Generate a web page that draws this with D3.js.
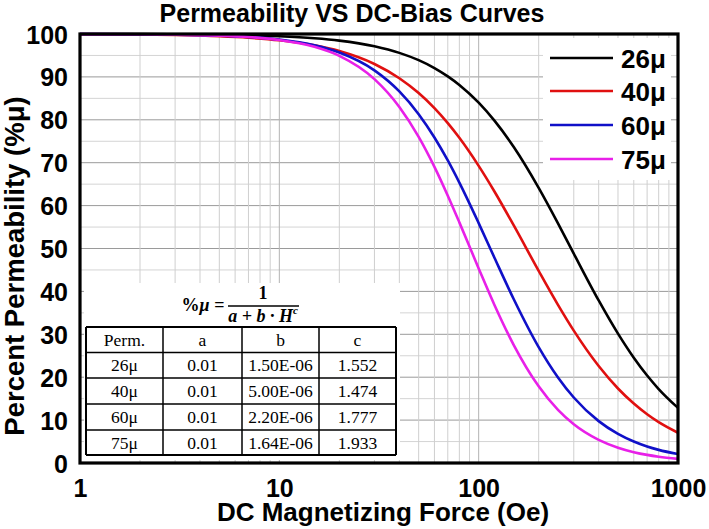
<!DOCTYPE html>
<html><head><meta charset="utf-8">
<script src="https://cdn.jsdelivr.net/npm/d3@7"></script>
<style>
html,body{margin:0;padding:0;background:#fff;}
svg{display:block;}
</style></head>
<body>
<svg id="chart" width="709" height="529"></svg>
<script>
// ---- data ----
const H = [1,2,3,5,7,10,15,20,30,40,50,60,70,80,100,120,150,200,250,300,400,500,600,700,800,1000];
const perm26 = [99.99,99.96,99.92,99.82,99.69,99.47,99.01,98.46,97.14,95.60,93.90,92.06,90.12,88.12,83.99,79.81,73.66,64.14,55.87,48.81,37.89,30.15,24.54,20.39,17.24,12.84];
const perm40 = [99.95,99.86,99.75,99.47,99.13,98.53,97.36,96.03,93.01,89.69,86.23,82.72,79.22,75.80,69.26,63.29,55.37,44.79,36.87,30.86,22.61,17.37,13.85,11.35,9.51,7.04];
const perm60 = [99.98,99.92,99.85,99.62,99.31,98.70,97.37,95.68,91.52,86.61,81.31,75.88,70.52,65.35,55.92,47.86,38.18,27.02,19.94,15.27,9.76,6.78,5.00,3.84,3.06,2.08];
const perm75 = [99.98,99.94,99.86,99.63,99.30,98.61,97.01,94.91,89.48,82.99,76.02,69.02,62.30,56.09,45.36,36.85,27.49,17.87,12.37,9.03,5.39,3.57,2.53,1.89,1.47,0.96];
const seriesNames = ["26\u03bc","40\u03bc","60\u03bc","75\u03bc"];
const seriesValues = [perm26, perm40, perm60, perm75];
const seriesColors = ["#000000","#e01010","#1010c8","#e820e8"];
const xTicks = [1,10,100,1000];
const yTicks = [0,10,20,30,40,50,60,70,80,90,100];
const tableHeader = ["Perm.","a","b","c"];
const tableRows = [
  ["26\u03bc","0.01","1.50E-06","1.552"],
  ["40\u03bc","0.01","5.00E-06","1.474"],
  ["60\u03bc","0.01","2.20E-06","1.777"],
  ["75\u03bc","0.01","1.64E-06","1.933"]
];

// ---- layout ----
const L = 80, R = 678, T = 34, B = 463;
const svg = d3.select("#chart");
const x = d3.scaleLog().domain([1,1000]).range([L,R]);
const y = d3.scaleLinear().domain([0,100]).range([B,T]);
const SANS = "'Liberation Sans', Arial, sans-serif";
const SERIF = "'Liberation Serif', 'Times New Roman', serif";

// grid
const g = svg.append("g");
const minorY = d3.range(0,101,5);
g.selectAll("line.gy").data(minorY).join("line")
  .attr("x1",L).attr("x2",R).attr("y1",d=>y(d)).attr("y2",d=>y(d))
  .attr("stroke",d=>d%10===0?"#9a9a9a":"#d4d4d4").attr("stroke-width",1);
const vx = [];
[1,10,100].forEach(dec=>{for(let k=1;k<=10;k++){const v=dec*k; if(v>1&&v<1000) vx.push(v);}});
g.selectAll("line.gx").data(Array.from(new Set(vx))).join("line")
  .attr("x1",d=>x(d)).attr("x2",d=>x(d)).attr("y1",T).attr("y2",B)
  .attr("stroke",d=>(d===10||d===100)?"#b4b4b4":"#cfcfcf").attr("stroke-width",1);

// white boxes (legend & table)
svg.append("rect").attr("x",543).attr("y",38).attr("width",128).attr("height",142).attr("fill","#fff");
svg.append("rect").attr("x",84).attr("y",283).attr("width",316).attr("height",177).attr("fill","#fff");

// curves
svg.append("clipPath").attr("id","clip").append("rect").attr("x",L).attr("y",T-3).attr("width",R-L).attr("height",B-T+3);
const line = d3.line().x(d=>x(d[0])).y(d=>y(d[1])).curve(d3.curveMonotoneX);
const cg = svg.append("g").attr("clip-path","url(#clip)");
seriesValues.forEach((vals,i)=>{
  cg.append("path").datum(H.map((h,j)=>[h,vals[j]]))
    .attr("d",line).attr("fill","none").attr("stroke",seriesColors[i]).attr("stroke-width",2.6);
});

// border
svg.append("rect").attr("x",L).attr("y",T).attr("width",R-L).attr("height",B-T)
  .attr("fill","none").attr("stroke","#000").attr("stroke-width",3.2);

// axes labels
const yAxis = d3.axisLeft(y).tickValues(yTicks).tickSize(0).tickPadding(12).tickFormat(d3.format("d"));
const ya = svg.append("g").attr("transform",`translate(${L},0)`).call(yAxis);
ya.select(".domain").remove();
ya.selectAll("text").attr("font-family",SANS).attr("font-weight","bold").attr("font-size",25).attr("fill","#000").attr("dy","0.36em");

const xAxis = d3.axisBottom(x).tickValues(xTicks).tickSize(0).tickPadding(0).tickFormat(d3.format("d"));
const xa = svg.append("g").attr("transform",`translate(0,${B})`).call(xAxis);
xa.select(".domain").remove();
xa.selectAll("text").attr("font-family",SANS).attr("font-weight","bold").attr("font-size",25).attr("fill","#000").attr("dy",null).attr("y",34);

// titles
svg.append("text").attr("x",352).attr("y",22).attr("text-anchor","middle")
  .attr("font-family",SANS).attr("font-weight","bold").attr("font-size",25).text("Permeability VS DC-Bias Curves");
svg.append("text").attr("x",383).attr("y",521).attr("text-anchor","middle")
  .attr("font-family",SANS).attr("font-weight","bold").attr("font-size",26).text("DC Magnetizing Force (Oe)");
svg.append("text").attr("transform","translate(24,266) rotate(-90)").attr("text-anchor","middle")
  .attr("font-family",SANS).attr("font-weight","bold").attr("font-size",27.5).text("Percent Permeability (%\u03bc)");

// legend
const legY = [58,91,125,159];
const lg = svg.append("g");
seriesNames.forEach((n,i)=>{
  lg.append("line").attr("x1",550).attr("x2",613).attr("y1",legY[i]).attr("y2",legY[i])
    .attr("stroke",seriesColors[i]).attr("stroke-width",2.6);
  lg.append("text").attr("x",621).attr("y",legY[i]+9.5)
    .attr("font-family",SANS).attr("font-weight","bold").attr("font-size",26).text(n);
});

// formula
const fg = svg.append("g").attr("font-family",SERIF).attr("font-weight","bold").attr("font-size",18);
fg.append("text").attr("x",203).attr("y",311).attr("text-anchor","middle")
  .html("%<tspan font-style='italic'>\u03bc</tspan> =");
fg.append("line").attr("x1",228).attr("x2",299).attr("y1",306).attr("y2",306).attr("stroke","#000").attr("stroke-width",1.3);
fg.append("text").attr("x",263).attr("y",299).attr("text-anchor","middle").text("1");
fg.append("text").attr("x",263).attr("y",322).attr("text-anchor","middle").attr("font-style","italic")
  .html("a + b \u00b7 H<tspan font-size='11' dy='-8'>c</tspan>");

// table
const colX = [86,163,242,319,396];
const rowY = [327,352.5,378,404,430,455];
const tg = svg.append("g");
const allRows = [tableHeader].concat(tableRows);
allRows.forEach((row,r)=>{
  row.forEach((cell,c)=>{
    tg.append("text").attr("x",(colX[c]+colX[c+1])/2).attr("y",(rowY[r]+rowY[r+1])/2+6)
      .attr("text-anchor","middle").attr("font-family",SERIF).attr("font-size",17.5).attr("fill","#000").text(cell);
  });
});
rowY.forEach((yy,i)=>tg.append("line").attr("x1",colX[0]).attr("x2",colX[4]).attr("y1",yy).attr("y2",yy)
  .attr("stroke","#000").attr("stroke-width",(i===0||i===rowY.length-1)?2:1.5));
colX.forEach((xx,i)=>tg.append("line").attr("x1",xx).attr("x2",xx).attr("y1",rowY[0]).attr("y2",rowY[5])
  .attr("stroke","#000").attr("stroke-width",(i===0||i===colX.length-1)?2:1.5));
</script>
</body></html>
